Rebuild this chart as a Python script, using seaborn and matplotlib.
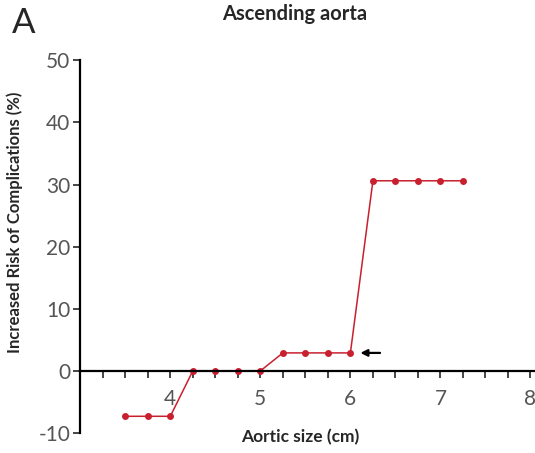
import matplotlib
matplotlib.use("Agg")
import matplotlib.pyplot as plt
from matplotlib.ticker import MultipleLocator
import seaborn as sns
import pandas as pd

# Values
aortic_size = [3.5, 3.75, 4.0, 4.25, 4.5, 4.75, 5.0, 5.25, 5.5, 5.75, 6.0,
               6.25, 6.5, 6.75, 7.0, 7.25]
risk = [-7.3, -7.3, -7.3, 0, 0, 0, 0, 2.9, 2.9, 2.9, 2.9,
        30.6, 30.6, 30.6, 30.6, 30.6]
x_ticks = [4, 5, 6, 7, 8]
y_ticks = [-10, 0, 10, 20, 30, 40, 50]

sns.set_style("ticks")
plt.rcParams["font.family"] = ["Lato", "DejaVu Sans"]
plt.rcParams["axes.unicode_minus"] = False

df = pd.DataFrame({"size": aortic_size, "risk": risk})

fig = plt.figure(figsize=(5.35, 4.53), dpi=100)
ax = fig.add_axes([0.15, 0.044, 0.85, 0.823])

sns.lineplot(data=df, x="size", y="risk", color="#c8202f", lw=1.1,
             marker="o", markersize=5, markeredgewidth=0, ax=ax)

ax.set_xlim(3.0, 8.05)
ax.set_ylim(-10, 50)
ax.set_xticks(x_ticks)
ax.set_yticks(y_ticks)
ax.xaxis.set_minor_locator(MultipleLocator(0.25))

# x axis drawn through zero
ax.spines["bottom"].set_position(("data", 0))
ax.spines["top"].set_visible(False)
ax.spines["right"].set_visible(False)
for s in ["left", "bottom"]:
    ax.spines[s].set_linewidth(1.6)
    ax.spines[s].set_color("black")

ax.tick_params(axis="x", which="both", direction="out", length=5, width=1.2,
               pad=8, labelsize=15, labelcolor="#555555")
ax.tick_params(axis="y", direction="out", length=5, width=1.2, pad=2,
               labelsize=15, labelcolor="#555555")

ax.set_xlabel("Aortic size (cm)", fontsize=12.5, fontweight="bold")
ax.xaxis.set_label_coords(0.484, 0.012)
ax.set_ylabel("Increased Risk of Complications (%)", fontsize=12,
              fontweight="bold")
ax.yaxis.set_label_coords(-0.125, 0.565)

# arrow next to the 6 cm point
ax.annotate("", xy=(6.08, 2.9), xytext=(6.36, 2.9),
            arrowprops=dict(arrowstyle="-|>", color="black", lw=1.6,
                            mutation_scale=10))

fig.text(0.551, 0.968, "Ascending aorta", ha="center", va="center",
         fontsize=14.5, fontweight="bold")
fig.text(0.022, 0.95, "A", ha="left", va="center", fontsize=25)

plt.savefig("out.png", dpi=100)
plt.close()
